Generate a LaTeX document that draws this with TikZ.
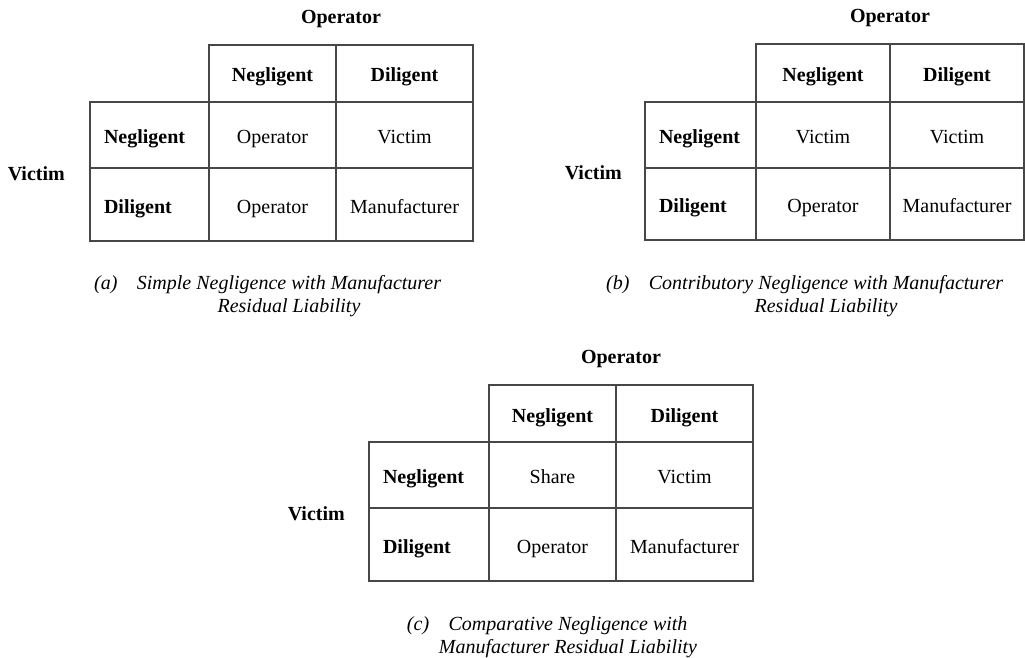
\documentclass[tikz,border=0pt]{standalone}
\usepackage{fontspec}
\setmainfont{Liberation Serif}
\usetikzlibrary{positioning,calc}

\begin{document}
\begin{tikzpicture}[x=1pt, y=-1pt,
  cell/.style={draw=black!72, line width=1.1pt, outer sep=0pt, inner sep=0pt, font=\fontsize{20}{23}\selectfont, text height=17pt, text depth=0pt, align=center},
  colhead/.style={cell, font=\fontsize{20}{23}\selectfont\bfseries},
  rowhead/.style={cell, font=\fontsize{20}{23}\selectfont\bfseries, inner xsep=14pt, text width=#1, align=left},
  sidehead/.style={inner sep=0pt, font=\fontsize{20}{23}\selectfont\bfseries, text height=17pt, text depth=0pt},
  caption/.style={inner sep=0pt, font=\fontsize{20}{23}\selectfont\itshape}]
  \useasboundingbox [fill=white] (0,0) rectangle (1025,658);

  % (a) simple negligence
  \node [colhead, minimum width=127, minimum height=57, anchor=north west] (aN) at (209,45) {Negligent};
  \node [colhead, minimum width=137, minimum height=57, right=0 of aN] (aD) {Diligent};
  \node [cell, minimum width=127, minimum height=66, below=0 of aN] (a11) {Operator};
  \node [cell, minimum width=137, minimum height=66, below=0 of aD] (a12) {Victim};
  \node [cell, minimum width=127, minimum height=73, below=0 of a11] (a21) {Operator};
  \node [cell, minimum width=137, minimum height=73, below=0 of a12] (a22) {Manufacturer};
  \node [rowhead=91pt, minimum height=66, left=0 of a11] (aRN) {Negligent};
  \node [rowhead=91pt, minimum height=73, left=0 of a21] (aRD) {Diligent};
  \node [sidehead] (aOp) at ($(aN.north west)!0.5!(aD.north east)+(0,-30)$) {Operator};
  \node [sidehead, anchor=east] (aVi) at ($(aRN.north west)!0.5!(aRD.south west)+(-25,0)$) {Victim};
  \node [caption, anchor=base] (capA1) at (289,289) {Simple Negligence with Manufacturer};
  \node [caption, anchor=base] (capA2) at ($(capA1.base)+(0,23)$) {Residual Liability};
  \node [caption, anchor=base east] (capA) at ($(capA1.base west)+(-19,0)$) {(a)};

  % (b) contributory negligence
  \node [colhead, minimum width=134, minimum height=58, anchor=north west] (bN) at (756,44) {Negligent};
  \node [colhead, minimum width=134, minimum height=58, right=0 of bN] (bD) {Diligent};
  \node [cell, minimum width=134, minimum height=66, below=0 of bN] (b11) {Victim};
  \node [cell, minimum width=134, minimum height=66, below=0 of bD] (b12) {Victim};
  \node [cell, minimum width=134, minimum height=72, below=0 of b11] (b21) {Operator};
  \node [cell, minimum width=134, minimum height=72, below=0 of b12] (b22) {Manufacturer};
  \node [rowhead=83pt, minimum height=66, left=0 of b11] (bRN) {Negligent};
  \node [rowhead=83pt, minimum height=72, left=0 of b21] (bRD) {Diligent};
  \node [sidehead] (bOp) at ($(bN.north west)!0.5!(bD.north east)+(0,-30)$) {Operator};
  \node [sidehead, anchor=east] (bVi) at ($(bRN.north west)!0.5!(bRD.south west)+(-23,0)$) {Victim};
  \node [caption, anchor=base] (capB1) at (826,289) {Contributory Negligence with Manufacturer};
  \node [caption, anchor=base] (capB2) at ($(capB1.base)+(0,23)$) {Residual Liability};
  \node [caption, anchor=base east] (capB) at ($(capB1.base west)+(-19,0)$) {(b)};

  % (c) comparative negligence
  \node [colhead, minimum width=127, minimum height=57, anchor=north west] (cN) at (489,385) {Negligent};
  \node [colhead, minimum width=137, minimum height=57, right=0 of cN] (cD) {Diligent};
  \node [cell, minimum width=127, minimum height=66, below=0 of cN] (c11) {Share};
  \node [cell, minimum width=137, minimum height=66, below=0 of cD] (c12) {Victim};
  \node [cell, minimum width=127, minimum height=73, below=0 of c11] (c21) {Operator};
  \node [cell, minimum width=137, minimum height=73, below=0 of c12] (c22) {Manufacturer};
  \node [rowhead=92pt, minimum height=66, left=0 of c11] (cRN) {Negligent};
  \node [rowhead=92pt, minimum height=73, left=0 of c21] (cRD) {Diligent};
  \node [sidehead] (cOp) at ($(cN.north west)!0.5!(cD.north east)+(0,-30)$) {Operator};
  \node [sidehead, anchor=east] (cVi) at ($(cRN.north west)!0.5!(cRD.south west)+(-24,0)$) {Victim};
  \node [caption, anchor=base] (capC1) at (568,630) {Comparative Negligence with};
  \node [caption, anchor=base] (capC2) at ($(capC1.base)+(0,23)$) {Manufacturer Residual Liability};
  \node [caption, anchor=base east] (capC) at ($(capC1.base west)+(-19,0)$) {(c)};
\end{tikzpicture}
\end{document}
